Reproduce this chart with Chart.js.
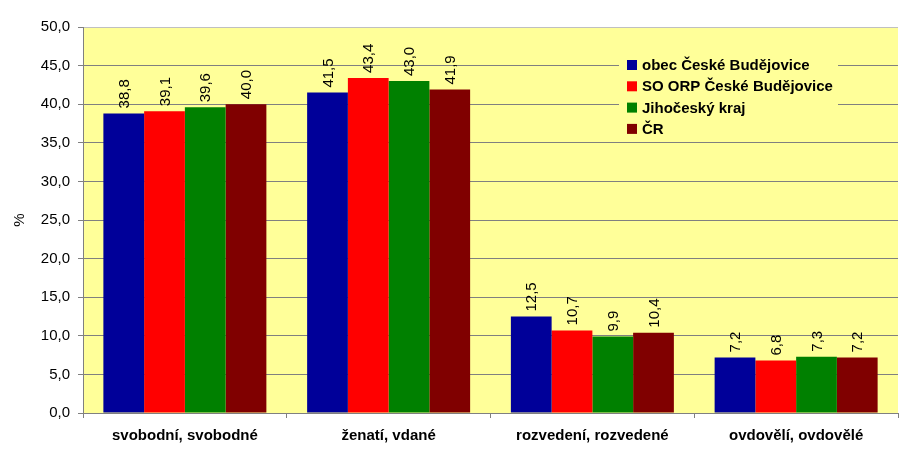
<!DOCTYPE html>
<html>
<head>
<meta charset="utf-8">
<script src="https://cdn.jsdelivr.net/npm/chart.js@4.4.1/dist/chart.umd.min.js"></script>
<style>
  html, body { margin: 0; padding: 0; background: #fff; }
  #wrap { width: 903px; height: 470px; }
</style>
</head>
<body>
<div id="wrap"><canvas id="chart" width="903" height="470"></canvas></div>
<script>
const categories = ["svobodní, svobodné", "ženatí, vdané", "rozvedení, rozvedené", "ovdovělí, ovdovělé"];
const seriesNames = ["obec České Budějovice", "SO ORP České Budějovice", "Jihočeský kraj", "ČR"];
const seriesColors = ["#000099", "#FF0000", "#008000", "#800000"];
const obecValues = [38.8, 41.5, 12.5, 7.2];
const orpValues = [39.1, 43.4, 10.7, 6.8];
const krajValues = [39.6, 43.0, 9.9, 7.3];
const crValues = [40.0, 41.9, 10.4, 7.2];
const yTicks = [0, 5, 10, 15, 20, 25, 30, 35, 40, 45, 50];

const FONT = "'Liberation Sans', Arial, sans-serif";
const fmt = (v) => v.toFixed(1).replace(".", ",");

const seriesValues = [obecValues, orpValues, krajValues, crValues];

// yellow plot area, value labels, legend and axis title
const decor = {
  id: "decor",
  beforeDraw(chart) {
    const { ctx, chartArea: a } = chart;
    ctx.save();
    ctx.fillStyle = "#FFFF99";
    ctx.fillRect(a.left, a.top, a.right - a.left, a.bottom - a.top);
    ctx.restore();
  },
  afterDatasetsDraw(chart) {
    const { ctx } = chart;
    ctx.save();
    ctx.font = "15px " + FONT;
    ctx.fillStyle = "#000";
    ctx.textAlign = "left";
    ctx.textBaseline = "middle";
    chart.data.datasets.forEach((ds, i) => {
      chart.getDatasetMeta(i).data.forEach((bar, j) => {
        ctx.save();
        ctx.translate(bar.x + 1, bar.y - 5);
        ctx.rotate(-Math.PI / 2);
        ctx.fillText(fmt(ds.data[j]), 0, 0);
        ctx.restore();
      });
    });

    // legend box
    ctx.fillStyle = "#FFFF99";
    ctx.fillRect(619, 46, 219, 94);
    ctx.font = "bold 15px " + FONT;
    ctx.textBaseline = "middle";
    chart.data.datasets.forEach((ds, i) => {
      const y = 65 + i * 21.3;
      ctx.fillStyle = ds.backgroundColor;
      ctx.fillRect(627, y - 5, 10, 10);
      ctx.fillStyle = "#000";
      ctx.fillText(ds.label, 642, y + 1);
    });

    // y axis title
    ctx.font = "15px " + FONT;
    ctx.textAlign = "center";
    ctx.translate(20, 220);
    ctx.rotate(-Math.PI / 2);
    ctx.fillText("%", 0, 0);
    ctx.restore();
  }
};

new Chart(document.getElementById("chart"), {
  type: "bar",
  data: {
    labels: categories,
    datasets: seriesNames.map((name, i) => ({
      label: name,
      data: seriesValues[i],
      backgroundColor: seriesColors[i],
      borderWidth: 0,
      categoryPercentage: 0.8,
      barPercentage: 1.0
    }))
  },
  options: {
    responsive: false,
    animation: false,
    devicePixelRatio: 1,
    layout: { padding: { top: 27, right: 5, left: 0, bottom: 0 } },
    plugins: {
      legend: { display: false },
      tooltip: { enabled: false }
    },
    scales: {
      x: {
        grid: { drawOnChartArea: false, drawTicks: true, tickLength: 5, color: "#808080", offset: true },
        border: { color: "#808080" },
        ticks: { color: "#000", font: { family: FONT, size: 15, weight: "bold" }, padding: 9, maxRotation: 0 },
        afterFit: (s) => { s.height = 57; }
      },
      y: {
        min: 0,
        max: 50,
        afterBuildTicks: (s) => { s.ticks = yTicks.map((v) => ({ value: v })); },
        grid: {
          color: (c) => (c.tick && c.tick.value === 50 ? "#C0C0C0" : "#808080"),
          tickLength: 5,
          tickColor: "#808080"
        },
        border: { color: "#808080" },
        ticks: {
          color: "#000",
          font: { family: FONT, size: 15 },
          padding: 8,
          callback: (v) => fmt(v)
        },
        afterFit: (s) => { s.width = 83; }
      }
    }
  },
  plugins: [decor]
});
</script>
</body>
</html>
